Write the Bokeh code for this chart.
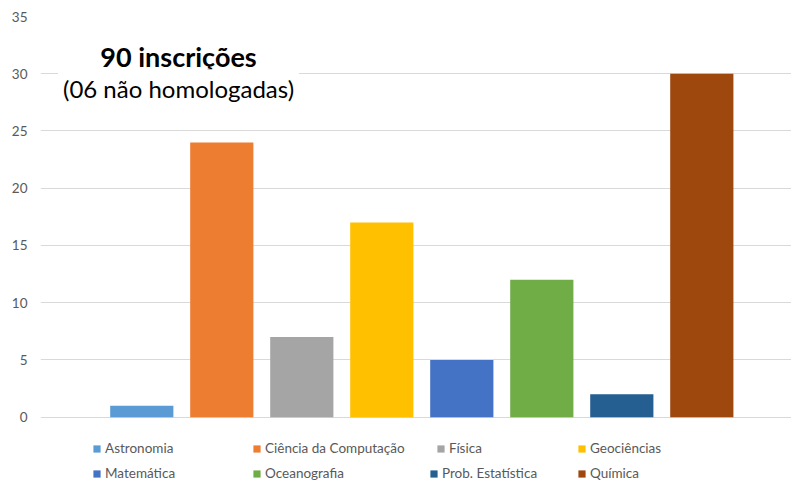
from bokeh.plotting import figure
from bokeh.models import Range1d, FixedTicker, Label, Legend, LegendItem, ColumnDataSource
from bokeh.embed import file_html
from bokeh.resources import INLINE

# ---- data ----
courses = ["Astronomia", "Ciência da Computação", "Física", "Geociências",
           "Matemática", "Oceanografia", "Prob. Estatística", "Química"]
inscricoes = [1, 24, 7, 17, 5, 12, 2, 30]
colors = ["#5B9BD5", "#ED7D31", "#A5A5A5", "#FFC000",
          "#4472C4", "#70AD47", "#255E91", "#9E480E"]
y_ticks = [0, 5, 10, 15, 20, 25, 30, 35]
title_main = "90 inscrições"
title_sub = "(06 não homologadas)"

src = ColumnDataSource(dict(x=list(range(len(courses))), top=inscricoes,
                            color=colors, course=courses))

p = figure(width=791, height=486, output_backend="svg", toolbar_location=None,
           x_range=Range1d(-1.266, 8.121), y_range=Range1d(-6.05, 35),
           x_axis_location=None,
           min_border_left=40, min_border_right=0, min_border_top=16, min_border_bottom=0)
p.outline_line_color = None
p.background_fill_color = "white"
p.border_fill_color = "white"
p.xgrid.visible = False

ax = p.yaxis[0]
ax.ticker = FixedTicker(ticks=y_ticks)
ax.axis_line_color = None
ax.major_tick_line_color = None
ax.minor_tick_line_color = None
ax.major_tick_out = 0
ax.major_tick_in = 0
ax.major_label_standoff = 13
ax.major_label_text_font = "Lato"
ax.major_label_text_font_size = "13.5px"
ax.major_label_text_color = "#595959"

p.ygrid.ticker = FixedTicker(ticks=y_ticks)
p.ygrid.grid_line_color = "#D9D9D9"
p.ygrid.grid_line_width = 1

r = p.vbar(x="x", top="top", bottom=0, width=0.79, fill_color="color",
           line_color=None, source=src)

# titles (annotation)
p.add_layout(Label(x=0.459, y=31.48, text=title_main, text_font="Lato",
                   text_font_style="bold", text_font_size="27px", text_color="#000000",
                   text_align="center", text_baseline="middle",
                   background_fill_color="white", padding=2))
p.add_layout(Label(x=0.459, y=28.69, text=title_sub, text_font="Lato",
                   text_font_size="24px", text_color="#000000",
                   text_align="center", text_baseline="middle",
                   background_fill_color="white", padding=5))

# legend layout (screen px relative to frame)
frame_left = 40
frame_bottom = 486
leg_x = [92, 252, 436, 577, 92, 252, 429, 577]
leg_row_center = [448, 473]
for i, name in enumerate(courses):
    row = i // 4
    lx = leg_x[i] - frame_left
    ly = frame_bottom - (leg_row_center[row] + 8)
    leg = Legend(items=[LegendItem(label=name, renderers=[r], index=i)],
                 location=(lx, ly), padding=0, margin=0, spacing=0,
                 border_line_color=None, background_fill_alpha=0,
                 glyph_width=9, glyph_height=9, label_height=9, label_standoff=4,
                 label_text_font="Lato", label_text_font_size="13.5px",
                 label_text_color="#595959")
    p.add_layout(leg)

open("out.html", "w").write(file_html(p, INLINE))
